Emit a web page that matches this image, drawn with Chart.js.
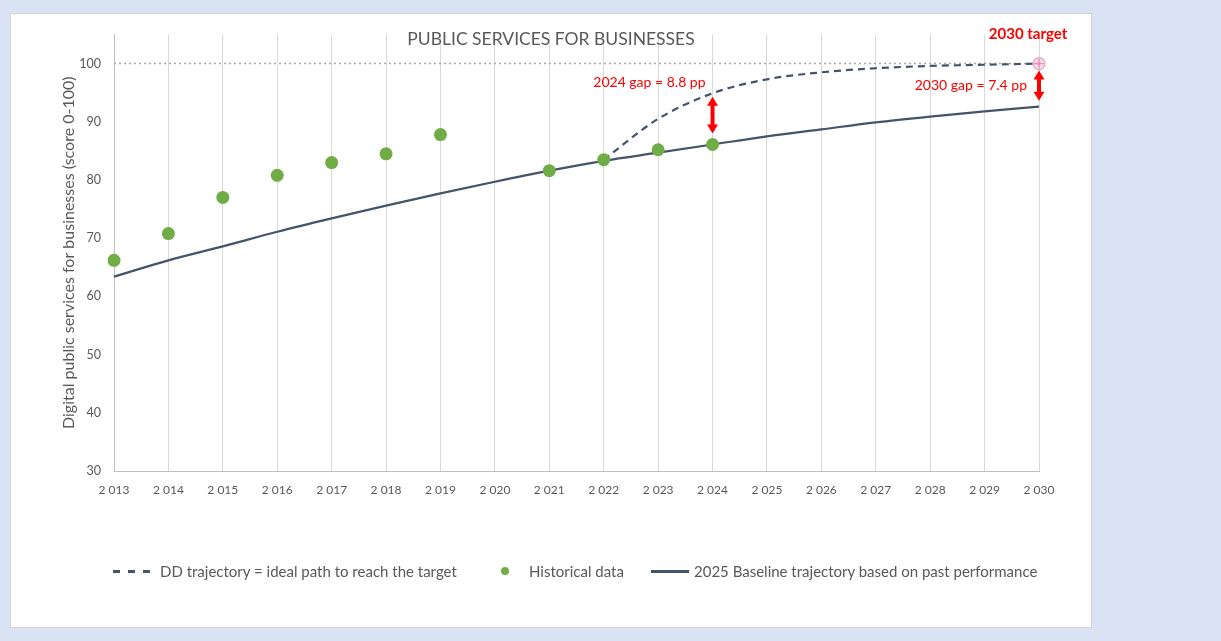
<!DOCTYPE html>
<html lang="en">
<head>
<meta charset="UTF-8">
<title>Public services for businesses</title>
<script src="https://cdn.jsdelivr.net/npm/chart.js"></script>
<style>
    body {
        margin: 0;
        background: #dae3f3;
        font-family: Lato, "Open Sans", sans-serif;
    }
    .card {
        position: absolute;
        left: 10px;
        top: 13px;
        width: 1082px;
        height: 615px;
        box-sizing: border-box;
        background: #fff;
        border: 1px solid #d4d4d4;
    }
    .chart-box {
        position: absolute;
        left: 0;
        top: 0;
        width: 1080px;
        height: 613px;
    }
    .legend {
        position: absolute;
        top: 561px;
        left: 0;
        font-size: 15px;
        color: #595959;
    }
    .legend span {
        position: absolute;
        white-space: nowrap;
        line-height: 20px;
    }
    .dash {
        top: 9px;
        width: 37px;
        height: 2.5px;
        background: repeating-linear-gradient(to right, #44546a 0 7px, transparent 7px 15px);
    }
    .solid {
        top: 9px;
        width: 38px;
        height: 2.5px;
        background: #44546a;
    }
    .dot {
        top: 6px;
        width: 8px;
        height: 8px;
        border-radius: 50%;
        background: #70ad47;
    }
</style>
</head>
<body>
<div class="card">
    <div class="chart-box"><canvas id="chart"></canvas></div>
</div>
<div class="legend">
    <span class="dash" style="left:113px"></span>
    <span style="left:160px">DD trajectory = ideal path to reach the target</span>
    <span class="dot" style="left:501px"></span>
    <span style="left:529px">Historical data</span>
    <span class="solid" style="left:651px"></span>
    <span style="left:694px">2025 Baseline trajectory based on past performance</span>
</div>

<script>
    // x axis labels (years, written with a thin thousands space like the source)
    const yearLabels = ['2 013', '2 014', '2 015', '2 016', '2 017', '2 018', '2 019', '2 020', '2 021',
        '2 022', '2 023', '2 024', '2 025', '2 026', '2 027', '2 028', '2 029', '2 030'];

    // green dots
    const historical = [66.2, 70.8, 77.0, 80.8, 83.0, 84.5, 87.8, null, 81.6,
        83.5, 85.2, 86.1, null, null, null, null, null, null];

    // solid line
    const baseline = [63.4, 66.2, 68.6, 71.1, 73.4, 75.6, 77.7, 79.7, 81.6,
        83.3, 84.7, 86.1, 87.5, 88.7, 89.9, 90.9, 91.8, 92.6];

    // dashed line
    const ddTrajectory = [null, null, null, null, null, null, null, null, null,
        83.5, 90.5, 94.9, 97.3, 98.5, 99.2, 99.6, 99.8, 100];

    // dotted target line and the 2030 target marker
    const targetLine = [100, 100, 100, 100, 100, 100, 100, 100, 100,
        100, 100, 100, 100, 100, 100, 100, 100, 100];
    const targetPoint = [null, null, null, null, null, null, null, null, null,
        null, null, null, null, null, null, null, null, 100];

    const yTicks = [30, 40, 50, 60, 70, 80, 90, 100];

    // gap arrows (index into yearLabels)
    const gapIndex = [11, 17];
    const gapText = ['2024 gap = 8.8 pp', '2030 gap = 7.4 pp'];

    const GREY = '#595959';
    const RED = '#ff0000';

    function drawArrow(ctx, x, y1, y2) {
        const head = 8;
        ctx.save();
        ctx.strokeStyle = RED;
        ctx.fillStyle = RED;
        ctx.lineWidth = 4;
        ctx.beginPath();
        ctx.moveTo(x, y1 + head);
        ctx.lineTo(x, y2 - head);
        ctx.stroke();
        ctx.beginPath();
        ctx.moveTo(x, y1);
        ctx.lineTo(x - 5.5, y1 + head + 1);
        ctx.lineTo(x + 5.5, y1 + head + 1);
        ctx.closePath();
        ctx.fill();
        ctx.beginPath();
        ctx.moveTo(x, y2);
        ctx.lineTo(x - 5.5, y2 - head - 1);
        ctx.lineTo(x + 5.5, y2 - head - 1);
        ctx.closePath();
        ctx.fill();
        ctx.restore();
    }

    const extras = {
        id: 'extras',
        afterDatasetsDraw(chart) {
            const { ctx, scales: { x, y }, chartArea } = chart;
            ctx.save();

            // title, centered on the card
            ctx.font = '17.5px Lato, sans-serif';
            ctx.fillStyle = GREY;
            ctx.textAlign = 'center';
            ctx.textBaseline = 'middle';
            ctx.fillText('PUBLIC SERVICES FOR BUSINESSES', chart.width / 2, 25);

            // gap arrows
            const insets = [[3.5, 11], [7, 6]];
            gapIndex.forEach((i, k) => {
                const px = x.getPixelForValue(i);
                const top = y.getPixelForValue(ddTrajectory[i]) + insets[k][0];
                const bottom = y.getPixelForValue(baseline[i]) - insets[k][1];
                drawArrow(ctx, px, top, bottom);
            });

            // gap labels
            ctx.font = '14px Lato, sans-serif';
            ctx.fillStyle = RED;
            ctx.textAlign = 'right';
            ctx.fillText(gapText[0], x.getPixelForValue(gapIndex[0]) - 7, y.getPixelForValue(96.7));
            ctx.fillText(gapText[1], x.getPixelForValue(gapIndex[1]) - 12, y.getPixelForValue(96.2));

            // target label
            ctx.font = 'bold 15px Lato, sans-serif';
            ctx.textAlign = 'center';
            ctx.fillText('2030 target', x.getPixelForValue(17) - 11, chartArea.top);
            ctx.restore();
        }
    };

    new Chart(document.getElementById('chart'), {
        type: 'line',
        data: {
            labels: yearLabels,
            datasets: [
                {
                    label: 'Historical data',
                    data: historical,
                    showLine: false,
                    pointRadius: 6.5,
                    pointHoverRadius: 6.5,
                    pointBackgroundColor: '#70ad47',
                    pointBorderWidth: 0
                },
                {
                    label: '2030 target',
                    data: targetPoint,
                    showLine: false,
                    pointStyle: 'cross',
                    pointRadius: 4.5,
                    pointBorderColor: '#e98bb6',
                    pointBorderWidth: 1.2
                },
                {
                    label: '2030 target ring',
                    data: targetPoint,
                    showLine: false,
                    pointRadius: 6,
                    pointBackgroundColor: 'rgba(240, 175, 205, 0.45)',
                    pointBorderColor: '#e4a2c4',
                    pointBorderWidth: 1.2
                },
                {
                    label: 'DD trajectory = ideal path to reach the target',
                    data: ddTrajectory,
                    borderColor: '#44546a',
                    borderWidth: 2.2,
                    borderDash: [7, 5],
                    pointRadius: 0,
                    cubicInterpolationMode: 'monotone'
                },
                {
                    label: '2025 Baseline trajectory based on past performance',
                    data: baseline,
                    borderColor: '#44546a',
                    borderWidth: 2.2,
                    pointRadius: 0,
                    cubicInterpolationMode: 'monotone'
                },
                {
                    label: 'Target',
                    data: targetLine,
                    borderColor: '#a6a6a6',
                    borderWidth: 1.5,
                    borderDash: [2, 3],
                    pointRadius: 0
                }
            ]
        },
        options: {
            responsive: true,
            maintainAspectRatio: false,
            animation: false,
            layout: { padding: { top: 20, right: 52, left: 0, bottom: 0 } },
            plugins: {
                legend: { display: false },
                tooltip: { enabled: false }
            },
            scales: {
                x: {
                    grid: { color: '#d9d9d9', lineWidth: 1, drawTicks: false },
                    border: { color: '#bfbfbf' },
                    ticks: {
                        color: GREY,
                        font: { family: 'Lato', size: 12 },
                        padding: 12,
                        maxRotation: 0,
                        autoSkip: false
                    },
                    afterFit(scale) { scale.height = 156; }
                },
                y: {
                    min: 30,
                    max: 105,
                    grid: { display: false, drawTicks: false },
                    border: { color: '#bfbfbf' },
                    ticks: {
                        color: GREY,
                        font: { family: 'Lato', size: 12.5 },
                        padding: 13
                    },
                    afterBuildTicks(scale) {
                        scale.ticks = yTicks.map(v => ({ value: v }));
                    },
                    title: {
                        display: true,
                        text: 'Digital public services for businesses (score 0-100)',
                        color: GREY,
                        font: { family: 'Lato', size: 16 },
                        padding: { top: 48 }
                    },
                    afterFit(scale) { scale.width = 103; }
                }
            }
        },
        plugins: [extras]
    });
</script>
</body>
</html>
